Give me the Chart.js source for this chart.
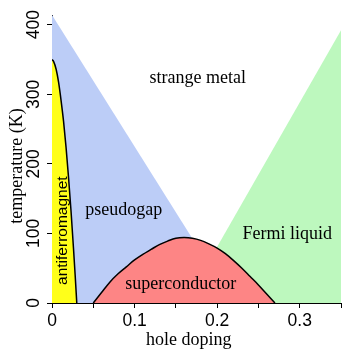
<!DOCTYPE html>
<html>
<head>
<meta charset="utf-8">
<script src="https://cdn.jsdelivr.net/npm/chart.js@4.4.1/dist/chart.umd.min.js"></script>
<style>
  html, body { margin: 0; padding: 0; background: #fff; }
  #contenedor { width: 352px; height: 357px; }
</style>
</head>
<body>
<div id="contenedor"><canvas id="grafico"></canvas></div>
<script>
// ticks
const xTicks = [0, 0.05, 0.1, 0.15, 0.2, 0.25, 0.3, 0.35]
const xTickLabels = ['0', '', '0.1', '', '0.2', '', '0.3', '']
const yTicks = [0, 100, 200, 300, 400]
const yTickLabels = ['0', '100', '200', '300', '400']

// pseudogap line T*
const pseudogapX = [0, 0.219]
const pseudogapT = [414, 0]

// Fermi liquid crossover
const fermiX = [0.161, 0.35]
const fermiT = [0, 392]

// antiferromagnet (Neel temperature)
const afmX = [0, 0.002, 0.005, 0.008, 0.011, 0.014, 0.017, 0.020, 0.023, 0.026, 0.028, 0.030]
const afmT = [350, 347, 336, 317, 291, 261, 224, 181, 133, 79, 41, 0]

// superconducting dome
const domeX = [0.05, 0.06, 0.07, 0.08, 0.09, 0.10, 0.11, 0.12, 0.13, 0.14, 0.15, 0.16, 0.17, 0.18, 0.19, 0.20, 0.21, 0.22, 0.23, 0.24, 0.25, 0.26, 0.27]
const domeT = [0, 15, 30, 42, 52, 62, 70, 77, 84, 89, 93, 94, 93, 90, 85, 79, 71, 61, 50, 38, 26, 13, 0]

// region names
const regionNames = ['strange metal', 'pseudogap', 'superconductor', 'Fermi liquid']
const regionX = [0.1765, 0.087, 0.156, 0.285]
const regionT = [316, 126, 20, 92]
const afmName = 'antiferromagnet'
const afmNameX = 0.0133
const afmNameT = 104

const puntos = (xs, ts) => xs.map((v, i) => ({ x: v, y: ts[i] }))

const datasets = [
    {
        label: 'superconductor',
        data: puntos(domeX, domeT),
        borderColor: '#000',
        borderWidth: 1.5,
        backgroundColor: '#fd8585',
        fill: 'origin',
        cubicInterpolationMode: 'monotone'
    },
    {
        label: 'antiferromagnet',
        data: puntos(afmX, afmT),
        borderColor: '#000',
        borderWidth: 1.5,
        backgroundColor: '#ffff1a',
        fill: 'origin',
        cubicInterpolationMode: 'monotone'
    },
    {
        label: 'Fermi liquid',
        data: puntos(fermiX, fermiT),
        borderWidth: 0,
        borderColor: 'rgba(0,0,0,0)',
        backgroundColor: '#bdf8be',
        fill: 'origin'
    },
    {
        label: 'pseudogap',
        data: puntos(pseudogapX, pseudogapT),
        borderWidth: 0,
        borderColor: 'rgba(0,0,0,0)',
        backgroundColor: '#bccdf7',
        fill: 'origin'
    }
]

const etiquetas = {
    id: 'etiquetas',
    afterDatasetsDraw(chart) {
        const { ctx, scales: { x, y } } = chart
        ctx.save()
        ctx.fillStyle = '#000'
        ctx.textAlign = 'center'
        ctx.textBaseline = 'alphabetic'
        ctx.font = '18px "Liberation Serif"'
        regionNames.forEach((nombre, i) => {
            ctx.fillText(nombre, x.getPixelForValue(regionX[i]), y.getPixelForValue(regionT[i]))
        })
        // rotated antiferromagnet label
        ctx.save()
        ctx.translate(x.getPixelForValue(afmNameX), y.getPixelForValue(afmNameT))
        ctx.rotate(-Math.PI / 2)
        ctx.textBaseline = 'middle'
        ctx.font = '15.5px "Liberation Sans"'
        ctx.fillText(afmName, 0, 0)
        ctx.restore()
        // axis titles
        ctx.fillText('hole doping', 188.7, 345)
        ctx.save()
        ctx.translate(22, 166)
        ctx.rotate(-Math.PI / 2)
        ctx.fillText('temperature (K)', 0, 0)
        ctx.restore()
        ctx.restore()
    }
}

const config = {
    type: 'scatter',
    data: { datasets },
    options: {
        responsive: true,
        maintainAspectRatio: false,
        animation: false,
        showLine: true,
        elements: { point: { radius: 0, hoverRadius: 0 }, line: { tension: 0 } },
        layout: { padding: { top: 15, right: 11, left: 0, bottom: 0 } },
        plugins: { legend: { display: false }, tooltip: { enabled: false } },
        scales: {
            x: {
                type: 'linear',
                min: 0,
                max: 0.35,
                afterBuildTicks: (s) => { s.ticks = xTicks.map(v => ({ value: v })) },
                afterFit: (s) => { s.height = 54 },
                grid: { drawOnChartArea: false, drawTicks: true, tickLength: 5, color: '#000' },
                border: { display: true, color: '#000', width: 1 },
                ticks: {
                    autoSkip: false,
                    maxRotation: 0,
                    padding: 3,
                    color: '#000',
                    font: { family: '"Liberation Sans"', size: 17.5 },
                    callback: (v, i) => xTickLabels[i]
                }
            },
            y: {
                type: 'linear',
                min: 0,
                max: 414,
                afterBuildTicks: (s) => { s.ticks = yTicks.map(v => ({ value: v })) },
                afterFit: (s) => { s.width = 52 },
                grid: { drawOnChartArea: false, drawTicks: true, tickLength: 5, color: '#000' },
                border: { display: true, color: '#000', width: 1 },
                ticks: {
                    autoSkip: false,
                    minRotation: 90,
                    maxRotation: 90,
                    crossAlign: 'center',
                    padding: -2,
                    color: '#000',
                    font: { family: '"Liberation Sans"', size: 17.5 },
                    callback: (v, i) => yTickLabels[i]
                }
            }
        }
    },
    plugins: [etiquetas]
}

const grafico = document.querySelector('#grafico')
new Chart(grafico, config)
</script>
</body>
</html>
